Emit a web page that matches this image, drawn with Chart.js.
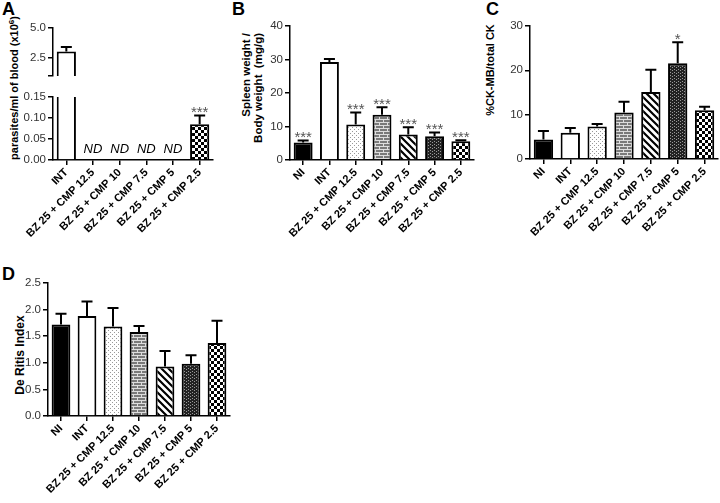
<!DOCTYPE html>
<html lang="en">
<head>
<meta charset="UTF-8">
<script src="https://cdn.jsdelivr.net/npm/chart.js@4.4.1/dist/chart.umd.min.js"></script>
<style>
  * { margin: 0; padding: 0; box-sizing: border-box; }
  body { width: 720px; height: 503px; background: #fff; position: relative; overflow: hidden; font-family: "Liberation Sans", Arial, sans-serif; color: #000; }
  canvas { position: absolute; }
  .letter { position: absolute; font-weight: bold; font-size: 18px; line-height: 18px; }
  .ytitle { position: absolute; font-weight: bold; white-space: nowrap; transform: rotate(-90deg); transform-origin: 50% 50%; }
  .ytitle sup { font-size: 8px; vertical-align: 4px; }
</style>
</head>
<body>
<div class="letter" style="left:2px;top:0px">A</div>
<div class="letter" style="left:232px;top:0px">B</div>
<div class="letter" style="left:486px;top:0px">C</div>
<div class="letter" style="left:2px;top:265px">D</div>

<div class="ytitle" style="left:-138px;top:81px;width:300px;height:14px;line-height:14px;font-size:11px;text-align:center">parasites/ml of blood (x10<sup>6</sup>)</div>
<div class="ytitle" style="left:192px;top:81px;width:120px;height:24px;line-height:12px;font-size:11.5px;text-align:right">Spleen weight /<br>Body weight&nbsp; (mg/g)</div>
<div class="ytitle" style="left:340px;top:63px;width:300px;height:14px;line-height:14px;font-size:11px;text-align:center">%CK-MB/total CK</div>
<div class="ytitle" style="left:-130px;top:348px;width:300px;height:14px;line-height:14px;font-size:12px;text-align:center">De Ritis Index</div>

<script>
// ---- data ----
const groupsA = ['INT', 'BZ 25 + CMP 12.5', 'BZ 25 + CMP 10', 'BZ 25 + CMP 7.5', 'BZ 25 + CMP 5', 'BZ 25 + CMP 2.5'];
const groups = ['NI', 'INT', 'BZ 25 + CMP 12.5', 'BZ 25 + CMP 10', 'BZ 25 + CMP 7.5', 'BZ 25 + CMP 5', 'BZ 25 + CMP 2.5'];

const parasiteMean = [3.05, 0, 0, 0, 0, 0.085];
const parasiteSem = [0.37, 0, 0, 0, 0, 0.021];
const parasiteMarks = ['', '', '', '', '', '***'];
const parasiteNd = ['', 'ND', 'ND', 'ND', 'ND', ''];
const parasiteUpperTicks = [1, 2.5, 5];
const parasiteLowerTicks = [0, 0.05, 0.1, 0.15];

const spleenMean = [5.2, 29.2, 10.6, 13.5, 7.6, 7.1, 5.6];
const spleenSem = [0.6, 0.9, 3.6, 2.2, 2.2, 1.1, 0.3];
const spleenMarks = ['***', '', '***', '***', '***', '***', '***'];
const spleenTicks = [0, 10, 20, 30, 40];

const ckMean = [4.4, 5.9, 7.3, 10.5, 15.1, 21.6, 11.0];
const ckSem = [1.9, 1.1, 0.6, 2.4, 5.0, 4.7, 0.8];
const ckMarks = ['', '', '', '', '', '*', ''];
const ckTicks = [0, 10, 20, 30];

const ritisMean = [1.72, 1.88, 1.68, 1.58, 0.93, 0.98, 1.37];
const ritisSem = [0.2, 0.27, 0.35, 0.11, 0.29, 0.16, 0.42];
const ritisTicks = [0, 0.5, 1.0, 1.5, 2.0, 2.5];

Chart.defaults.font.family = '"Liberation Sans", Arial, sans-serif';
Chart.defaults.color = '#000';

// fill patterns used by GraphPad style bars
function makePattern(w, h, draw) {
  const c = document.createElement('canvas');
  c.width = w; c.height = h;
  const g = c.getContext('2d');
  draw(g);
  return g.createPattern(c, 'repeat');
}
const dots = makePattern(4, 4, g => {
  g.fillStyle = '#fff'; g.fillRect(0, 0, 4, 4);
  g.fillStyle = '#999'; g.fillRect(0, 0, 1, 1); g.fillRect(2, 2, 1, 1);
});
const brick = makePattern(8, 6, g => {
  g.fillStyle = '#7a7a7a'; g.fillRect(0, 0, 8, 6);
  g.fillStyle = '#dedede';
  g.fillRect(0, 0, 8, 1); g.fillRect(0, 3, 8, 1);
  g.fillRect(1, 1, 1, 2); g.fillRect(5, 4, 1, 2);
});
const stripes = makePattern(7, 7, g => {
  g.fillStyle = '#fff'; g.fillRect(0, 0, 7, 7);
  g.strokeStyle = '#000'; g.lineWidth = 2.2;
  g.beginPath();
  g.moveTo(-1, -1); g.lineTo(8, 8);
  g.moveTo(-1, 6); g.lineTo(1, 8);
  g.moveTo(6, -1); g.lineTo(8, 1);
  g.stroke();
});
const mesh = makePattern(4, 3, g => {
  g.fillStyle = '#222'; g.fillRect(0, 0, 4, 3);
  g.fillStyle = '#999'; g.fillRect(0, 1, 1, 1); g.fillRect(2, 2, 1, 1);
});
const checker = makePattern(6, 6, g => {
  g.fillStyle = '#fff'; g.fillRect(0, 0, 6, 6);
  g.fillStyle = '#000'; g.fillRect(0, 0, 3, 3); g.fillRect(3, 3, 3, 3);
});
const fills7 = ['#000', '#fff', dots, brick, stripes, mesh, checker];
const fillsA = fills7.slice(1);

// error bars, significance marks and ND labels
const errorBars = {
  id: 'errorBars',
  afterDatasetsDraw(chart, args, opts) {
    const { ctx, chartArea } = chart;
    const y = chart.scales.y;
    const meta = chart.getDatasetMeta(0);
    const vals = chart.data.datasets[0].data;
    ctx.save();
    meta.data.forEach((bar, i) => {
      const v = vals[i];
      const e = (opts.sem || [])[i] || 0;
      if (v != null && v > 0 && v + e <= y.max && v >= y.min) {
        const top = y.getPixelForValue(v + e);
        if (e > 0) {
          ctx.strokeStyle = '#000';
          ctx.lineWidth = 2;
          ctx.beginPath();
          ctx.moveTo(bar.x, bar.y);
          ctx.lineTo(bar.x, top);
          ctx.moveTo(bar.x - 5.5, top);
          ctx.lineTo(bar.x + 5.5, top);
          ctx.stroke();
        }
        const mark = (opts.marks || [])[i];
        if (mark) {
          ctx.fillStyle = '#555';
          ctx.font = '15px "Liberation Sans", Arial, sans-serif';
          ctx.textAlign = 'center';
          ctx.textBaseline = 'alphabetic';
          ctx.fillText(mark, bar.x, top + 1.5);
        }
      }
      const nd = (opts.nd || [])[i];
      if (nd) {
        ctx.fillStyle = '#000';
        ctx.font = 'italic 13px "Liberation Sans", Arial, sans-serif';
        ctx.textAlign = 'center';
        ctx.textBaseline = 'alphabetic';
        ctx.fillText(nd, bar.x, chartArea.bottom - 7);
      }
    });
    ctx.restore();
  }
};

// one bar panel; box is the plot area in page pixels
function panel(box, labels, data, fills, ticks, digits, extra, showX = true) {
  const padL = 44, padT = 8, padR = 12, padB = showX ? 120 : 2;
  const canvas = document.createElement('canvas');
  canvas.width = box.width + padL + padR;
  canvas.height = box.height + padT + padB;
  canvas.style.left = (box.left - padL) + 'px';
  canvas.style.top = (box.top - padT) + 'px';
  canvas.style.width = canvas.width + 'px';
  canvas.style.height = canvas.height + 'px';
  document.body.appendChild(canvas);

  const axisLine = { color: '#000', width: 1.5 };
  return new Chart(canvas, {
    type: 'bar',
    data: {
      labels,
      datasets: [{
        data,
        backgroundColor: fills,
        borderColor: '#000',
        borderWidth: 2,
        barPercentage: 0.72,
        categoryPercentage: 1,
      }],
    },
    options: {
      responsive: false,
      animation: false,
      layout: { padding: { left: 0, top: padT, right: padR, bottom: showX ? 0 : padB } },
      plugins: { legend: { display: false }, tooltip: { enabled: false }, errorBars: extra },
      scales: {
        x: {
          display: showX,
          offset: true,
          border: axisLine,
          grid: { display: true, drawOnChartArea: false, offset: false, tickLength: 5, color: '#000', lineWidth: 1.5 },
          ticks: { autoSkip: false, minRotation: 45, maxRotation: 45, padding: 1, color: '#000', font: { size: 11, weight: 'bold' } },
          afterFit: s => { s.height = padB; },
        },
        y: {
          min: ticks[0],
          max: ticks[ticks.length - 1],
          border: axisLine,
          grid: { display: true, drawOnChartArea: false, tickLength: 5, color: '#000', lineWidth: 1.5 },
          ticks: {
            padding: 2,
            color: '#333',
            font: { size: 11.5 },
            callback: v => (extra.hideFirst && v === ticks[0]) ? '' : Number(v).toFixed(digits),
          },
          afterBuildTicks: s => { s.ticks = ticks.map(v => ({ value: v })); },
          afterFit: s => { s.width = padL; },
        },
      },
    },
    plugins: [errorBars],
  });
}

// A: broken axis drawn as two stacked plots
panel({ left: 53, top: 27, width: 160, height: 56 }, groupsA,
  parasiteMean.map(v => v > parasiteUpperTicks[0] ? v : null), fillsA,
  parasiteUpperTicks, 1, { sem: parasiteSem, hideFirst: true }, false);
panel({ left: 53, top: 96, width: 160, height: 64 }, groupsA,
  parasiteMean, fillsA, parasiteLowerTicks, 2,
  { sem: parasiteSem, marks: parasiteMarks, nd: parasiteNd });

// B, C, D
panel({ left: 290, top: 25, width: 184, height: 135 }, groups,
  spleenMean, fills7, spleenTicks, 0, { sem: spleenSem, marks: spleenMarks });
panel({ left: 530, top: 25, width: 188, height: 134 }, groups,
  ckMean, fills7, ckTicks, 0, { sem: ckSem, marks: ckMarks });
panel({ left: 48, top: 282, width: 182, height: 134 }, groups,
  ritisMean, fills7, ritisTicks, 1, { sem: ritisSem });
</script>
</body>
</html>
